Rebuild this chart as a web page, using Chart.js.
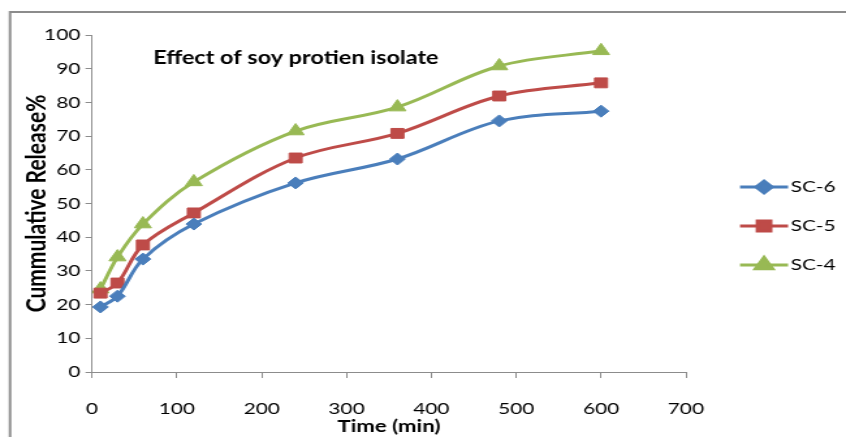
<!DOCTYPE html>
<html>
<head>
<meta charset="utf-8">
<script src="https://cdn.jsdelivr.net/npm/chart.js@4/dist/chart.umd.min.js"></script>
<style>
  html, body { margin: 0; padding: 0; background: #fff; overflow: hidden; }
  #wrap { width: 650px; height: 437px; position: relative; transform: scaleX(1.3015); transform-origin: 0 0; }
</style>
</head>
<body>
<div id="wrap"><canvas id="c" width="650" height="437"></canvas></div>
<script>
// Sampling times (min)
const times = [10, 30, 60, 120, 240, 360, 480, 600];
// Cumulative release (%) per formulation
const sc6 = [19.3, 22.5, 33.5, 43.9, 56.1, 63.2, 74.5, 77.4];
const sc5 = [23.4, 26.4, 37.7, 47.2, 63.5, 70.8, 81.9, 85.8];
const sc4 = [24.6, 34.1, 43.9, 56.4, 71.5, 78.6, 90.8, 95.3];
const seriesNames = ['SC-6', 'SC-5', 'SC-4'];
const chartTitle = 'Effect of soy protien isolate';
const xTitle = 'Time (min)';
const yTitle = 'Cummulative Release%';

const FONT = 'Lato, "Open Sans", "Liberation Sans", sans-serif';
const colors = ['#4A7EBB', '#BE4B48', '#98B954'];
const markers = ['rectRot', 'rect', 'triangle'];
const radii = [6, 7, 7.5];

const pts = arr => arr.map((v, i) => ({ x: times[i], y: v }));

const datasets = [sc6, sc5, sc4].map((arr, i) => ({
  label: seriesNames[i],
  data: pts(arr),
  borderColor: colors[i],
  backgroundColor: colors[i],
  borderWidth: 3,
  pointStyle: markers[i],
  pointRadius: radii[i],
  pointHoverRadius: radii[i],
  pointBorderWidth: 1,
  tension: 0.35
}));

// Outer frame lines
const framePlugin = {
  id: 'frame',
  beforeDraw(chart) {
    const ctx = chart.ctx;
    ctx.save();
    ctx.strokeStyle = '#8c8c8c';
    ctx.lineWidth = 2;
    ctx.beginPath();
    ctx.moveTo(7.7, 437);
    ctx.lineTo(7.7, 12);
    ctx.lineTo(chart.width, 12);
    ctx.stroke();
    ctx.restore();
  }
};

// Title placed inside the plot area
const innerTitle = {
  id: 'innerTitle',
  afterDatasetsDraw(chart) {
    const ctx = chart.ctx;
    const a = chart.chartArea;
    ctx.save();
    ctx.font = 'bold 18px ' + FONT;
    ctx.fillStyle = '#000';
    ctx.textBaseline = 'middle';
    ctx.textAlign = 'left';
    ctx.fillText(chartTitle, a.left + 47, a.top + 23);
    ctx.restore();
  }
};

// Legend on the right: line segment with marker, then label
const sideLegend = {
  id: 'sideLegend',
  afterDraw(chart) {
    const ctx = chart.ctx;
    ctx.save();
    chart.data.datasets.forEach((ds, i) => {
      const y = 187 + i * 39;
      const x0 = 568.6, x1 = 605.5;
      ctx.strokeStyle = ds.borderColor;
      ctx.lineWidth = 3;
      ctx.beginPath();
      ctx.moveTo(x0, y);
      ctx.lineTo(x1, y);
      ctx.stroke();
      ctx.fillStyle = ds.borderColor;
      Chart.helpers.drawPoint(ctx, {
        pointStyle: ds.pointStyle,
        radius: ds.pointRadius,
        rotation: 0,
        borderWidth: 1
      }, (x0 + x1) / 2, y);
      ctx.fillStyle = '#000';
      ctx.font = '16px ' + FONT;
      ctx.textBaseline = 'middle';
      ctx.textAlign = 'left';
      ctx.fillText(ds.label, x1 + 2, y);
    });
    ctx.restore();
  }
};

new Chart(document.getElementById('c'), {
  type: 'line',
  data: { datasets },
  options: {
    responsive: false,
    animation: false,
    layout: { padding: { left: 16, top: 35, right: 123, bottom: 0 } },
    plugins: {
      legend: { display: false },
      tooltip: { enabled: false },
      title: { display: false }
    },
    scales: {
      x: {
        type: 'linear',
        min: 0,
        max: 700,
        ticks: {
          stepSize: 100,
          color: '#000',
          font: { family: FONT, size: 16 },
          padding: 21,
          maxRotation: 0
        },
        grid: {
          display: true,
          drawOnChartArea: false,
          drawTicks: true,
          tickLength: 6,
          color: '#8c8c8c'
        },
        border: { color: '#8c8c8c', width: 1 },
        title: {
          display: true,
          text: xTitle,
          color: '#000',
          font: { family: FONT, size: 17, weight: 'bold' },
          padding: { top: 0, bottom: 0 }
        },
        afterFit(scale) { scale.height = 65; }
      },
      y: {
        min: 0,
        max: 100,
        ticks: {
          stepSize: 10,
          color: '#000',
          font: { family: FONT, size: 16 },
          padding: 4
        },
        grid: {
          display: true,
          drawOnChartArea: false,
          drawTicks: true,
          tickLength: 5,
          color: '#8c8c8c'
        },
        border: { color: '#8c8c8c', width: 1 },
        title: {
          display: true,
          text: yTitle,
          color: '#000',
          font: { family: FONT, size: 21, weight: 'bold' },
          padding: { top: 0, bottom: 0 }
        },
        afterFit(scale) { scale.width = 54.7; }
      }
    }
  },
  plugins: [framePlugin, innerTitle, sideLegend]
});
</script>
</body>
</html>
